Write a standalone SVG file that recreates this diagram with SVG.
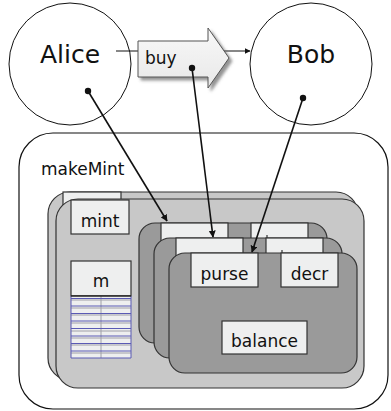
<svg xmlns="http://www.w3.org/2000/svg" width="391" height="411" viewBox="0 0 391 411">
<defs>
<style>
text{font-family:"DejaVu Sans",Verdana,sans-serif;fill:#111}
.lbl{font-size:17px}
.big{font-size:25px}
.agent{fill:#fff;stroke:#111;stroke-width:1}
.mintL{fill:#c8c8c8;stroke:#333;stroke-width:1.2}
.purseL{fill:#9a9a9a;stroke:#333;stroke-width:1.2}
.tab{fill:#eeefef;stroke:#333;stroke-width:1.2}
.ref{stroke:#111;stroke-width:1.6;fill:none;marker-end:url(#ah)}
.grid{stroke:#5a5ab4;stroke-width:1}
.grid2{stroke:#a0a0a8;stroke-width:1}
</style>
<marker id="ah" viewBox="0 0 10 10" refX="9" refY="5" markerWidth="7" markerHeight="7" orient="auto" markerUnits="userSpaceOnUse"><path d="M0,0L10,5L0,10z" fill="#111"/></marker>
<marker id="ah2" viewBox="0 0 10 10" refX="9" refY="5" markerWidth="6" markerHeight="6" orient="auto" markerUnits="userSpaceOnUse"><path d="M0,0L10,5L0,10z" fill="#111"/></marker>
<filter id="sh" x="-20%" y="-20%" width="140%" height="140%"><feDropShadow dx="3" dy="3" stdDeviation="1.5" flood-color="#666" flood-opacity="0.7"/></filter>
<linearGradient id="bg" x1="0" y1="0" x2="0" y2="1"><stop offset="0" stop-color="#f8f8f8"/><stop offset="1" stop-color="#e8e8e8"/></linearGradient>
</defs>

<g id="makeMint">
<rect x="19" y="133" width="369" height="276" rx="34" fill="#fff" stroke="#111" stroke-width="1.2"/>
<text class="lbl" x="41" y="175">makeMint</text>
</g>

<g id="mint-back">
<rect class="mintL" x="48" y="192" width="310" height="188" rx="22"/>
<rect class="tab" x="63" y="192" width="58" height="34"/>
</g>

<g id="mint">
<rect class="mintL" x="56" y="199" width="308" height="189" rx="22"/>
<rect class="tab" x="71" y="200" width="58" height="34"/>
<text class="lbl" x="100" y="227" text-anchor="middle">mint</text>
</g>

<g id="m">
<rect class="tab" x="71" y="261" width="60" height="35"/>
<text class="lbl" x="101" y="287" text-anchor="middle">m</text>
<rect x="71" y="296" width="60" height="62" fill="#eeefef"/>
<g class="grid2">
<line x1="101" y1="296" x2="101" y2="358"/>
<line x1="71" y1="300" x2="131" y2="300"/>
<line x1="71" y1="308" x2="131" y2="308"/>
<line x1="71" y1="315" x2="131" y2="315"/>
<line x1="71" y1="323" x2="131" y2="323"/>
<line x1="71" y1="331" x2="131" y2="331"/>
<line x1="71" y1="338" x2="131" y2="338"/>
<line x1="71" y1="345" x2="131" y2="345"/>
<line x1="71" y1="353" x2="131" y2="353"/>
</g>
<g class="grid">
<line x1="71" y1="298.5" x2="131" y2="298.5"/>
<line x1="71" y1="306" x2="131" y2="306"/>
<line x1="71" y1="313.5" x2="131" y2="313.5"/>
<line x1="71" y1="321" x2="131" y2="321"/>
<line x1="71" y1="328.5" x2="131" y2="328.5"/>
<line x1="71" y1="336" x2="131" y2="336"/>
<line x1="71" y1="343.5" x2="131" y2="343.5"/>
<line x1="71" y1="351" x2="131" y2="351"/>
<line x1="71" y1="358" x2="131" y2="358"/>
<line x1="71" y1="296" x2="71" y2="358"/>
<line x1="131" y1="296" x2="131" y2="358"/>
</g>
<line x1="71" y1="296" x2="131" y2="296" stroke="#222" stroke-width="1.4"/>
</g>

<g id="purse-1">
<rect class="purseL" x="139" y="223" width="188" height="120" rx="16"/>
<rect class="tab" x="161" y="223" width="67" height="34"/>
<rect class="tab" x="251" y="223" width="57" height="34"/>
</g>

<g id="purse-2">
<rect class="purseL" x="154" y="238" width="188" height="120" rx="16"/>
<rect class="tab" x="176" y="238" width="67" height="34"/>
<rect class="tab" x="266" y="238" width="57" height="34"/>
<line x1="267" y1="235" x2="267" y2="238" stroke="#333" stroke-width="1.2"/>
</g>

<g id="purse">
<rect class="purseL" x="169" y="253" width="188" height="120" rx="16"/>
<rect class="tab" x="191" y="253" width="67" height="34"/>
<text class="lbl" x="224.5" y="280" text-anchor="middle">purse</text>
<rect class="tab" x="281" y="253" width="57" height="34"/>
<line x1="282" y1="250" x2="282" y2="253" stroke="#333" stroke-width="1.2"/>
<text class="lbl" x="309.5" y="280" text-anchor="middle">decr</text>
<rect class="tab" x="222" y="321" width="85" height="33"/>
<text class="lbl" x="264.5" y="347" text-anchor="middle">balance</text>
</g>

<g id="Alice">
<circle class="agent" cx="70" cy="64" r="61"/>
<text class="big" x="70" y="63" text-anchor="middle">Alice</text>
</g>

<g id="Bob">
<circle class="agent" cx="311" cy="64" r="61"/>
<text class="big" x="311" y="63" text-anchor="middle">Bob</text>
</g>

<g id="connectors">
<line x1="116" y1="51" x2="250" y2="51" stroke="#111" stroke-width="1.2" marker-end="url(#ah2)"/>
<g id="buy">
<path d="M138,41H208V28L229,58L208,88V77H138Z" fill="url(#bg)" stroke="#555" stroke-width="1" filter="url(#sh)"/>
<text class="lbl" x="145" y="64">buy</text>
</g>
<circle cx="88" cy="91" r="3.2" fill="#111"/>
<circle cx="192" cy="68" r="3.2" fill="#111"/>
<circle cx="303" cy="98" r="3.2" fill="#111"/>
<line class="ref" x1="88" y1="91" x2="167" y2="221"/>
<line class="ref" x1="192" y1="68" x2="213" y2="237"/>
<line class="ref" x1="303" y1="98" x2="252" y2="252"/>
</g>
</svg>
